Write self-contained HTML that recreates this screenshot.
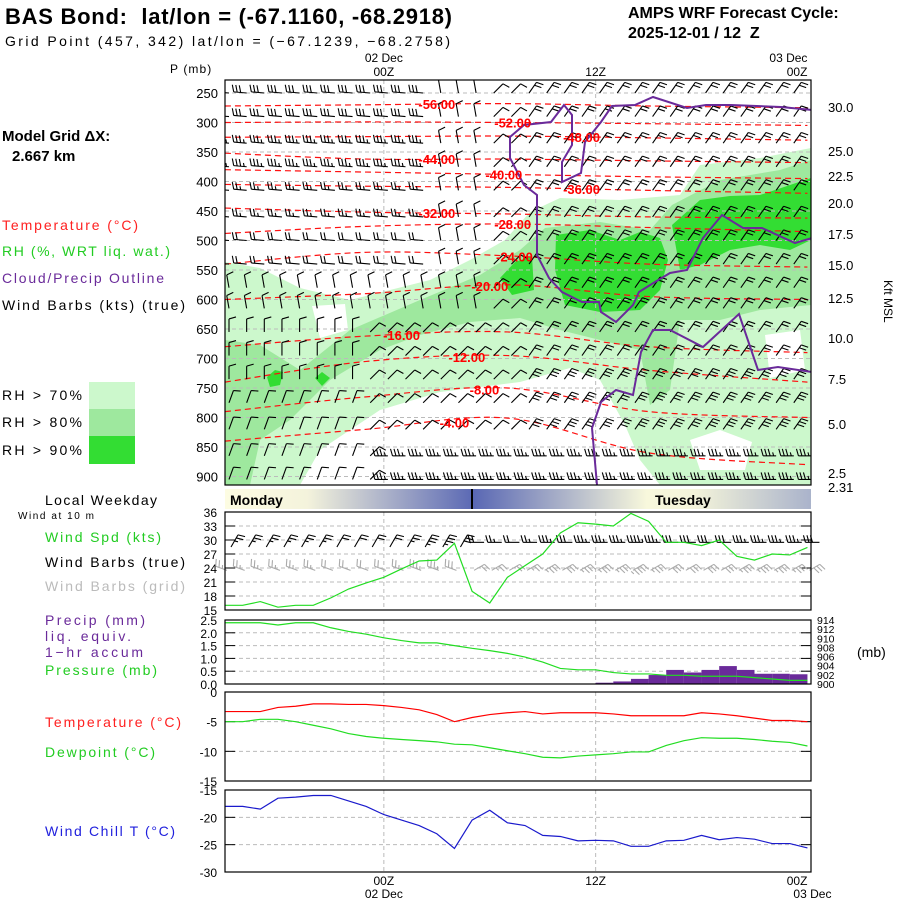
<!DOCTYPE html>
<html><head><meta charset="utf-8"><style>
body{margin:0;background:#fff;}
svg{display:block;font-family:"Liberation Sans",sans-serif;}
text{white-space:pre;}
.lg{letter-spacing:1.1px;}
</style></head><body>
<svg id="c" width="900" height="900" viewBox="0 0 900 900" xmlns="http://www.w3.org/2000/svg">
<defs>
<linearGradient id="day2" x1="225" x2="811" y1="0" y2="0" gradientUnits="userSpaceOnUse">
<stop offset="0" stop-color="#fdfce2"/><stop offset="0.14" stop-color="#f4f3dc"/><stop offset="0.425" stop-color="#5a68b4"/><stop offset="0.425" stop-color="#5a68b4"/><stop offset="0.72" stop-color="#f8f8dc"/><stop offset="0.8" stop-color="#f4f4da"/><stop offset="1" stop-color="#aab3cb"/>
</linearGradient>
</defs>
<text x="5" y="24" font-size="22" font-weight="bold" textLength="447">BAS Bond:  lat/lon = (-67.1160, -68.2918)</text>
<text x="5" y="46" font-size="14" textLength="445">Grid Point (457, 342) lat/lon = (−67.1239, −68.2758)</text>
<text x="628" y="18" font-size="16" font-weight="bold">AMPS WRF Forecast Cycle:</text>
<text x="628" y="38" font-size="16" font-weight="bold">2025-12-01 / 12  Z</text>
<text x="170" y="73" font-size="12" class="lg">P (mb)</text>
<text x="2" y="141" font-size="15" font-weight="bold">Model Grid ΔX:</text>
<text x="12" y="161" font-size="15" font-weight="bold">2.667 km</text>
<text x="2" y="230" font-size="14" fill="#ff2020" textLength="136">Temperature (°C)</text>
<text x="2" y="256" font-size="14" fill="#22cc22" textLength="168">RH (%, WRT liq. wat.)</text>
<text x="2" y="283" font-size="14" fill="#6a2a9a" textLength="162">Cloud/Precip Outline</text>
<text x="2" y="310" font-size="14" textLength="183">Wind Barbs (kts) (true)</text>
<rect x="89" y="382" width="46" height="27" fill="#ccf8cc"/>
<rect x="89" y="409" width="46" height="27" fill="#9ee89e"/>
<rect x="89" y="436" width="46" height="28" fill="#33dd33"/>
<text x="2" y="400" font-size="14" textLength="80">RH &gt; 70%</text>
<text x="2" y="427" font-size="14" textLength="80">RH &gt; 80%</text>
<text x="2" y="455" font-size="14" textLength="80">RH &gt; 90%</text>
<text x="45" y="505" font-size="14" textLength="112">Local Weekday</text>
<text x="18" y="519" font-size="10" textLength="76">Wind at 10 m</text>
<text x="45" y="542" font-size="14" fill="#22cc22" textLength="116">Wind Spd (kts)</text>
<text x="45" y="567" font-size="14" textLength="140">Wind Barbs (true)</text>
<text x="45" y="591" font-size="14" fill="#bbbbbb" textLength="140">Wind Barbs (grid)</text>
<text x="45" y="625" font-size="14" fill="#6a2a9a" textLength="100">Precip (mm)</text>
<text x="45" y="641" font-size="14" fill="#6a2a9a" textLength="86">liq. equiv.</text>
<text x="45" y="657" font-size="14" fill="#6a2a9a" textLength="98">1−hr accum</text>
<text x="45" y="675" font-size="14" fill="#22cc22" textLength="112">Pressure (mb)</text>
<text x="45" y="727" font-size="14" fill="#ff2020" textLength="136">Temperature (°C)</text>
<text x="45" y="757" font-size="14" fill="#22cc22" textLength="110">Dewpoint (°C)</text>
<text x="45" y="836" font-size="14" fill="#2020dd" textLength="130">Wind Chill T (°C)</text>
<text x="857" y="657" font-size="14">(mb)</text>
<text x="0" y="0" font-size="12" transform="translate(884,280) rotate(90)">Kft MSL</text>
<g id="g"></g>
</svg>
<script>
// ---------- data ----------
const hours = [0,1,2,3,4,5,6,7,8,9,10,11,12,13,14,15,16,17,18,19,20,21,22,23,24,25,26,27,28,29,30,31,32,33];
const windSpd = [16,16,16.8,15.6,16,16,17.6,19.5,20.8,22,23.8,25.5,25.7,29.3,19,16.5,22,24.5,27,31.5,33.7,33.4,33,35.7,34,29.5,29.5,28.8,30,26.5,25.7,27,26.8,28.4];
const pressureMb = [913.4,913.4,913.4,912.9,913.4,913.4,912.3,911.5,910.9,910.1,909.5,909,909,908.4,907.8,907.3,906.7,905.9,904.8,903.4,903.1,903.1,902.5,902.2,902.2,901.9,901.9,901.7,901.7,901.7,901.4,901.1,900.8,900.8];
const precipHours = [21,22,23,24,25,26,27,28,29,30,31,32];
const precipMm = [0.05,0.1,0.2,0.35,0.55,0.45,0.55,0.7,0.55,0.4,0.4,0.38];
const tempC = [-3.3,-3.3,-3.3,-2.6,-2.4,-2,-2,-2.1,-2.1,-2.3,-2.6,-3,-3.8,-5,-4.3,-3.8,-3.5,-3.3,-3.7,-3.5,-3.5,-3.5,-3.7,-4,-4,-4,-4,-3.5,-3.7,-4,-4.4,-4.8,-4.8,-5];
const dewC = [-5,-5,-4.6,-4.6,-5,-5.6,-6.2,-7,-7.5,-7.8,-8,-8.2,-8.4,-8.8,-8.9,-9.4,-9.9,-10.4,-11,-11.1,-10.8,-10.6,-10.4,-10.1,-10.1,-9,-8.2,-7.7,-7.8,-7.8,-8,-8.3,-8.5,-9.1];
const chillC = [-18,-18,-18.5,-16.5,-16.3,-16,-16,-17,-18,-19.5,-20.5,-21.5,-23,-25.7,-20.5,-18.7,-21,-21.5,-23.3,-23.5,-24.3,-24.2,-24.3,-25.3,-25.3,-24.3,-24.2,-23.3,-24.1,-23.7,-24,-24.8,-24.8,-25.6];
const pLevels = [250,300,350,400,450,500,550,600,650,700,750,800,850,900];
const kftLabels = ["30.0","25.0","22.5","20.0","17.5","15.0","12.5","10.0","7.5","5.0","2.5","2.31"];
const kftY = [107,151,176,203,234,265,298,338,379,424,473,487];
const isoTemps = [-56,-52,-48,-44,-40,-36,-32,-28,-24,-20,-16,-12,-8,-4];
const isoHours = [0,8,16,24,33];
const isoP = [[272,270,268,272,275],[300,299,300,302,305],[325,324,323,326,330],[352,362,362,365,368],[380,384,388,392,395],[405,408,410,415,420],[445,452,455,460,462],[488,476,472,478,485],[540,520,526,540,545],[600,590,575,595,600],[680,662,655,680,690],[740,705,695,720,740],[790,765,750,790,800],[840,820,801,860,880]];
const isoLabelH = [12,16.3,20.2,12,15.8,20.2,12,16.3,16.4,15,10,13.7,14.7,13];
const windTicks = [15,18,21,24,27,30,33,36];
const precipTicks = [0,0.5,1.0,1.5,2.0,2.5];
const presTicks = [900,902,904,906,908,910,912,914];
const tempTicks = [-15,-10,-5,0];
const chillTicks = [-30,-25,-20,-15];

// ---------- axes ----------
const L=225,R=811;
const X=h=>L+h*17.65;
const Pm=p=>93+(p-250)/50*29.5;
const Yw=v=>610-(v-15)*(98/21);
const Yr=mm=>684-mm*(64/2.5);
const Ypr=mb=>684-(mb-900)*(64/14);
const Yt=t=>692-t*(89/15);
const Yc=t=>790+(-15-t)*(82/15);

const NS="http://www.w3.org/2000/svg";
const G=document.getElementById('g');
function mk(tag,attrs,parent){const e=document.createElementNS(NS,tag);for(const k in attrs)e.setAttribute(k,attrs[k]);(parent||G).appendChild(e);return e;}
function txt(x,y,s,size,anchor,fill,parent){const t=mk('text',{x:x,y:y,'font-size':size,'text-anchor':anchor||'start',fill:fill||'#000'},parent);t.textContent=s;return t;}

// ---------- main cross-section ----------
const main=mk('g',{});


const clip=mk('clipPath',{id:'mc'});mk('rect',{x:L,y:80,width:R-L,height:405},clip);
const area=mk('g',{'clip-path':'url(#mc)'},main);
function poly(pts,fill,name){const e=mk('polygon',{points:pts.map(q=>q.join(',')).join(' '),fill:fill,'stroke-linejoin':'round'},area);return e;}
poly([[225,262],[260,268],[300,288],[350,300],[390,290],[430,280],[470,260],[505,240],[530,212],[560,198],[620,200],[680,195],[700,165],[760,158],[811,148],[811,485],[225,485]],'#ccf8cc','rh70-region');
poly([[300,485],[320,450],[380,410],[440,392],[520,382],[570,368],[600,380],[625,425],[640,460],[660,485]],'#ffffff','dry-gap-lower');
poly([[312,306],[345,304],[348,330],[320,338]],'#ffffff','dry-gap-left');
poly([[690,440],[720,430],[752,442],[745,470],[700,470]],'#ffffff','dry-gap-right-low');
poly([[765,335],[800,330],[805,370],[770,378]],'#ffffff','dry-gap-right');
poly([[225,340],[260,345],[300,370],[350,330],[420,300],[480,275],[520,250],[545,228],[600,222],[650,230],[672,205],[720,180],[780,170],[811,160],[811,305],[760,310],[720,320],[680,320],[670,390],[650,405],[640,350],[600,340],[560,330],[520,318],[470,322],[420,335],[380,350],[330,380],[290,420],[260,440],[250,485],[225,485]],'#9ee89e','rh80-region');
poly([[556,235],[590,230],[620,240],[640,232],[660,238],[668,260],[660,290],[640,310],[600,312],[565,305],[555,270]],'#33dd33','rh90-blob');
poly([[672,225],[700,200],[730,196],[760,195],[790,185],[811,178],[811,240],[790,250],[760,245],[730,250],[700,265],[680,270]],'#33dd33','rh90-band');
poly([[500,278],[515,262],[532,256],[534,290],[512,295]],'#33dd33','rh90-small');
poly([[267,377],[275,370],[283,372],[280,385],[270,387]],'#33dd33','rh90-dot1');
poly([[315,378],[322,372],[330,378],[322,386]],'#33dd33','rh90-dot2');
for(const p of pLevels){const l=mk('line',{x1:L,x2:R,y1:Pm(p),y2:Pm(p),stroke:'#bbb','stroke-dasharray':'4,3','stroke-width':1},area);

}
[9,21].forEach(h=>mk('line',{x1:X(h),x2:X(h),y1:80,y2:485,stroke:'#bbb','stroke-dasharray':'4,3'},area));
function interp(xs,ys,x){for(let i=0;i<xs.length-1;i++){if(x<=xs[i+1]){const f=(x-xs[i])/(xs[i+1]-xs[i]);return ys[i]+f*(ys[i+1]-ys[i]);}}return ys[ys.length-1];}
isoTemps.forEach((t,i)=>{
 const pts=isoHours.map((h,j)=>[X(h),Pm(isoP[i][j])]);
 let d='M'+pts[0][0]+','+pts[0][1];
 for(let j=0;j<pts.length-1;j++){const p0=pts[Math.max(0,j-1)],p1=pts[j],p2=pts[j+1],p3=pts[Math.min(pts.length-1,j+2)];
 d+=' C'+(p1[0]+(p2[0]-p0[0])/6)+','+(p1[1]+(p2[1]-p0[1])/6)+' '+(p2[0]-(p3[0]-p1[0])/6)+','+(p2[1]-(p3[1]-p1[1])/6)+' '+p2[0]+','+p2[1];}
 const e=mk('path',{d:d,fill:'none',stroke:'#ff1010','stroke-width':1.2,'stroke-dasharray':'6,4'},area);
 
 
});
function barb(x,y,dir,spd,color,len,parent){
 const g=mk('g',{stroke:color,'stroke-width':1.1,fill:'none'},parent);
 const a=dir*Math.PI/180;const ux=Math.sin(a),uy=-Math.cos(a);
 const ex=x+ux*len,ey=y+uy*len;
 mk('line',{x1:x,y1:y,x2:ex,y2:ey},g);
 let n=Math.round(spd/10),half=(Math.round(spd/5)%2);
 const px=-uy,py=ux;
 for(let k=0;k<n;k++){const bx=ex-ux*k*3.5,by=ey-uy*k*3.5;mk('line',{x1:bx,y1:by,x2:bx+px*7+ux*2,y2:by+py*7+uy*2},g);}
 if(half){const bx=ex-ux*n*3.5,by=ey-uy*n*3.5;mk('line',{x1:bx,y1:by,x2:bx+px*3.5+ux,y2:by+py*3.5+uy},g);}
 return g;
}
const barbRows=[250,290,335,375,415,460,500,540,580,615,655,695,735,775,820,865,905];
const bg=mk('g',{},area);


for(const p of barbRows){for(let h=0;h<=33;h++){
 let dir,spd;
 if(p>840&&h>=9){dir=270;spd=25;}
 else if(h<12&&p<560){dir=275;spd=30-(p-250)/30;}
 else if(h<15&&p<640){dir=350;spd=12;}
 else if(h<8){dir=p>760?20:0;spd=10;}
 else if(h<17){dir=45;spd=12;}
 else {dir=35;spd=p>700?28:22;}
 barb(X(h)+4,Pm(p),dir,spd,'#000',13,bg);
}}
const outline1=[[812,110],[781,107],[731,105],[706,105],[687,108],[653,97],[635,105],[612,106],[601,122],[585,142],[581,173],[562,182],[562,162],[572,145],[572,115],[564,105],[551,122],[524,125],[510,137],[510,158],[524,185],[537,195],[537,255],[549,278],[562,292],[582,302],[599,302],[601,312],[616,322],[633,305],[639,292],[655,282],[670,273],[687,270],[703,238],[722,215],[743,228],[762,228],[795,243],[812,238]];
const outline2=[[597,485],[592,428],[601,402],[616,390],[633,395],[641,352],[653,330],[670,330],[703,347],[739,314],[758,370],[778,367],[812,372]];
[outline1,outline2].forEach(o=>{const e=mk('polyline',{points:o.map(q=>q.join(',')).join(' '),fill:'none',stroke:'#6a2a9a','stroke-width':2},area);

});
isoTemps.forEach((t,i)=>{const h=isoLabelH[i];const p=interp(isoHours,isoP[i],h);
 const e=txt(X(h),Pm(p)+5,t.toFixed(2),13,'middle','#ff0000',area);e.setAttribute('font-weight','bold');
 
 });
mk('rect',{x:L,y:80,width:R-L,height:405,fill:'none',stroke:'#000','stroke-width':1.2},main);
pLevels.forEach(p=>{const e=txt(218,Pm(p)+5,String(p),13,'end','#000',main);
 
 });
kftLabels.forEach((s,i)=>{const e=txt(828,kftY[i]+5,s,13,'start','#000',main);
 
 });
[[9,'02 Dec'],[33,'03 Dec']].forEach(a=>{const e=txt(X(a[0]),62,a[1],12,a[0]==33?'end':'middle','#000');});
[[9,'00Z'],[21,'12Z'],[33,'00Z']].forEach(a=>{const e=txt(X(a[0]),76,a[1],12,a[0]==33?'end':'middle','#000');});

// ---------- day bar ----------
const day=mk('rect',{x:L,y:489,width:R-L,height:20,fill:'url(#day2)'});


mk('line',{x1:472,x2:472,y1:489,y2:509,stroke:'#000','stroke-width':2});
let e1=txt(230,505,'Monday',14,'start','#000');e1.setAttribute('font-weight','bold');
let e2=txt(655,505,'Tuesday',14,'start','#000');e2.setAttribute('font-weight','bold');

// ---------- panels ----------
function panel(name,top,bot,ticks,Yf,fmt,rightTicks,Yr2){
 const g=mk('g',{});
 
 
 ticks.forEach(v=>{const y=Yf(v);if(y>top+1&&y<bot-1)mk('line',{x1:L,x2:R,y1:y,y2:y,stroke:'#bbb','stroke-dasharray':'4,3'},g);
  mk('line',{x1:L,x2:L+10,y1:y,y2:y,stroke:'#000'},g);mk('line',{x1:R-10,x2:R,y1:y,y2:y,stroke:'#000'},g);
  const t=txt(L-8,y+5,fmt(v),12,'end','#000',g);});
 if(rightTicks)rightTicks.forEach(v=>{const t=txt(R+6,Yr2(v)+4,String(v),10.5,'start','#000',g);});
 [9,21].forEach(h=>mk('line',{x1:X(h),x2:X(h),y1:top,y2:bot,stroke:'#bbb','stroke-dasharray':'4,3'},g));
 return g;
}
function frame(g,top,bot){mk('rect',{x:L,y:top,width:R-L,height:bot-top,fill:'none',stroke:'#000','stroke-width':1.2},g);}
function line(g,vals,Yf,color,name){const e=mk('polyline',{points:hours.map((h,i)=>X(h)+','+Yf(vals[i])).join(' '),fill:'none',stroke:color,'stroke-width':1.2},g);
 
 }

const wp=panel('wind-panel',512,610,windTicks,Yw,v=>String(v));
hours.forEach((h,i)=>{ barb(X(h)+2,Yw(23.5),h<14?290:60,windSpd[i],'#aaaaaa',12,wp); });
hours.forEach((h,i)=>{
 if(h<14) barb(X(h)+6,Yw(28.5),30,windSpd[i],'#000',14,wp);
 else barb(X(h)+12,Yw(29.5),270,windSpd[i],'#000',14,wp);
});
line(wp,windSpd,Yw,'#22dd22','wind-speed-line');
frame(wp,512,610);

const pp=panel('precip-pressure-panel',620,684,precipTicks,Yr,v=>v.toFixed(1),presTicks,Ypr);
precipHours.forEach((h,i)=>{const b=mk('rect',{x:X(h),y:Yr(precipMm[i]),width:17.65,height:684-Yr(precipMm[i]),fill:'#6a2a9a'},pp);
 
 });
line(pp,pressureMb,Ypr,'#22dd22','pressure-line');
frame(pp,620,684);

const tp=panel('temperature-panel',692,781,tempTicks,Yt,v=>String(v));
line(tp,tempC,Yt,'#ff0000','temperature-line');
line(tp,dewC,Yt,'#22dd22','dewpoint-line');
frame(tp,692,781);

const cp=panel('wind-chill-panel',790,872,chillTicks,Yc,v=>String(v));
line(cp,chillC,Yc,'#1a1acc','wind-chill-line');
frame(cp,790,872);

[[9,'00Z','02 Dec'],[21,'12Z',''],[33,'00Z','03 Dec']].forEach(a=>{
 const t=txt(X(a[0]),885,a[1],12,a[0]==33?'end':'middle','#000');
 if(a[2]){const d=txt(X(a[0])+(a[0]==33?5:0),898,a[2],12,'middle','#000');}
});
</script>
</body></html>
